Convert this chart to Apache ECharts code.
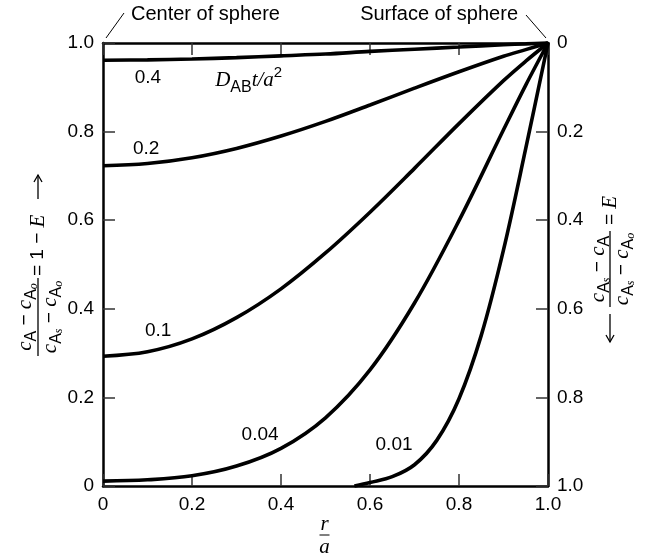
<!DOCTYPE html>
<html>
<head>
<meta charset="utf-8">
<script src="https://cdn.jsdelivr.net/npm/echarts@6/dist/echarts.min.js"></script>
<style>
html,body{margin:0;padding:0;background:#fff;}
#c{width:650px;height:557px;}
</style>
</head>
<body>
<div id="c"></div>
<script>
// ---- data ----
var rMain = [0, 0.1, 0.2, 0.3, 0.4, 0.5, 0.6, 0.7, 0.8, 0.9, 0.95, 1.0];
var v040 = [0.961, 0.962, 0.964, 0.967, 0.971, 0.975, 0.981, 0.986, 0.991, 0.996, 0.998, 1.0];
var v020 = [0.723, 0.728, 0.741, 0.762, 0.790, 0.823, 0.860, 0.898, 0.935, 0.970, 0.985, 1.0];
var v010 = [0.293, 0.303, 0.332, 0.380, 0.445, 0.526, 0.618, 0.717, 0.818, 0.915, 0.959, 1.0];
var v004 = [0.011, 0.014, 0.023, 0.045, 0.085, 0.154, 0.262, 0.413, 0.599, 0.804, 0.905, 1.0];
var r001 = [0.565, 0.6, 0.65, 0.7, 0.75, 0.8, 0.85, 0.9, 0.95, 1.0];
var v001 = [0.0, 0.008, 0.021, 0.048, 0.103, 0.197, 0.340, 0.533, 0.762, 1.0];

var xTickLabels = ['0', '0.2', '0.4', '0.6', '0.8', '1.0'];
var yTickLabels = ['0', '0.2', '0.4', '0.6', '0.8', '1.0'];
var y2TickLabels = ['0', '0.2', '0.4', '0.6', '0.8', '1.0'];

var curveLabels = ['0.4', '0.2', '0.1', '0.04', '0.01'];
var curveLabelR = [0.101, 0.097, 0.124, 0.353, 0.654];
var curveLabelV = [0.921, 0.761, 0.350, 0.115, 0.093];

// ---- chart ----
var SANS = '"Liberation Sans", Arial, sans-serif';
var SERIF = '"Liberation Serif", "Times New Roman", serif';
var chart = echarts.init(document.getElementById('c'), null, {renderer: 'canvas'});

function zip(xs, ys) { return xs.map(function (x, i) { return [x, ys[i]]; }); }
function fmt(labels) { return function (v) { return labels[Math.round(v / 0.2)]; }; }

var axisCommon = {
  type: 'value', min: 0, max: 1, interval: 0.2,
  axisLine: {show: true, onZero: false, lineStyle: {color: '#000', width: 2.5}},
  axisTick: {show: true, inside: true, length: 12, lineStyle: {color: '#333', width: 1.5}},
  splitLine: {show: false},
  axisLabel: {color: '#000', fontSize: 19, fontFamily: SANS, margin: 9}
};
function ax(extra) { return echarts.util.merge(echarts.util.clone(axisCommon), extra, true); }

function lineSeries(name, data) {
  return {
    name: name, type: 'line', data: data, xAxisIndex: 0, yAxisIndex: 0,
    smooth: 0.35, showSymbol: false, symbol: 'none', clip: false,
    lineStyle: {color: '#000', width: 3.6}, silent: true, animation: false
  };
}

var option = {
  backgroundColor: '#fff',
  animation: false,
  grid: {left: 103, right: 102, top: 43, bottom: 71, outerBoundsMode: 'none', containLabel: false},
  xAxis: [
    ax({position: 'bottom', axisLabel: {formatter: fmt(xTickLabels)}}),
    ax({position: 'top', axisLabel: {show: false}})
  ],
  yAxis: [
    ax({position: 'left', axisLabel: {formatter: fmt(yTickLabels)}}),
    ax({position: 'right', inverse: true, axisLabel: {formatter: fmt(y2TickLabels)}})
  ],
  series: [
    lineSeries('0.4', zip(rMain, v040)),
    lineSeries('0.2', zip(rMain, v020)),
    lineSeries('0.1', zip(rMain, v010)),
    lineSeries('0.04', zip(rMain, v004)),
    lineSeries('0.01', zip(r001, v001))
  ]
};
chart.setOption(option);

function px(r, v) { return chart.convertToPixel({xAxisIndex: 0, yAxisIndex: 0}, [r, v]); }

var richY = {
  c: {fontFamily: SERIF, fontStyle: 'italic', fontSize: 21, lineHeight: 30, verticalAlign: 'middle', fill: '#000'},
  A: {fontFamily: SANS, fontSize: 16, lineHeight: 23, verticalAlign: 'bottom', fill: '#000'},
  o: {fontFamily: SERIF, fontStyle: 'italic', fontSize: 12, lineHeight: 12, verticalAlign: 'bottom', fill: '#000'},
  m: {fontFamily: SANS, fontSize: 19, lineHeight: 30, verticalAlign: 'middle', fill: '#000'},
  E: {fontFamily: SERIF, fontStyle: 'italic', fontSize: 21, lineHeight: 30, verticalAlign: 'middle', fill: '#000'}
};

var graphics = [];
// curve labels
curveLabels.forEach(function (t, i) {
  var p = px(curveLabelR[i], curveLabelV[i]);
  graphics.push({type: 'text', x: p[0], y: p[1], silent: true,
    style: {text: t, fontSize: 19, fontFamily: SANS, fill: '#000', align: 'center', verticalAlign: 'middle'}});
});
// D_AB t / a^2
var pd = px(0.252, 0.916);
graphics.push({type: 'text', x: pd[0], y: pd[1], silent: true,
  style: {text: '{D|D}{s|AB}{t|t/a}{p|2}', align: 'left', verticalAlign: 'middle',
    rich: {
      D: {fontFamily: SERIF, fontStyle: 'italic', fontSize: 21, lineHeight: 30, verticalAlign: 'middle', fill: '#000'},
      s: {fontFamily: SANS, fontSize: 16, lineHeight: 22, verticalAlign: 'bottom', fill: '#000'},
      t: {fontFamily: SERIF, fontStyle: 'italic', fontSize: 21, lineHeight: 30, verticalAlign: 'middle', fill: '#000'},
      p: {fontFamily: SANS, fontSize: 15, lineHeight: 22, verticalAlign: 'top', fill: '#000'}
    }}});

// top annotations
graphics.push({type: 'text', x: 131, y: 14, silent: true,
  style: {text: 'Center of sphere', fontSize: 20, fontFamily: SANS, fill: '#000', align: 'left', verticalAlign: 'middle'}});
graphics.push({type: 'line', silent: true, shape: {x1: 106, y1: 38, x2: 124, y2: 13}, style: {stroke: '#000', lineWidth: 1}});
graphics.push({type: 'text', x: 518, y: 14, silent: true,
  style: {text: 'Surface of sphere', fontSize: 20, fontFamily: SANS, fill: '#000', align: 'right', verticalAlign: 'middle'}});
graphics.push({type: 'line', silent: true, shape: {x1: 526, y1: 15, x2: 546, y2: 38}, style: {stroke: '#000', lineWidth: 1}});

// x axis title r/a
var pc = px(0.5, 0);
graphics.push({type: 'group', x: pc[0] - 1, y: 0, silent: true, children: [
  {type: 'text', x: 0, y: 524, style: {text: 'r', fontFamily: SERIF, fontStyle: 'italic', fontSize: 21, fill: '#000', align: 'center', verticalAlign: 'middle'}},
  {type: 'line', shape: {x1: -5, y1: 535, x2: 5, y2: 535}, style: {stroke: '#000', lineWidth: 1}},
  {type: 'text', x: 0, y: 547, style: {text: 'a', fontFamily: SERIF, fontStyle: 'italic', fontSize: 21, fill: '#000', align: 'center', verticalAlign: 'middle'}}
]});

// left y title (rotated)
graphics.push({type: 'group', x: 38, y: 356, rotation: Math.PI / 2, silent: true, children: [
  {type: 'text', x: 39, y: -13, style: {text: '{c|c}{A|A}{m| − }{c|c}{A|A}{o|o}', rich: richY, align: 'center', verticalAlign: 'middle'}},
  {type: 'line', shape: {x1: 0, y1: 0, x2: 78, y2: 0}, style: {stroke: '#000', lineWidth: 1.3}},
  {type: 'text', x: 39, y: 12, style: {text: '{c|c}{A|A}{o|s}{m| − }{c|c}{A|A}{o|o}', rich: richY, align: 'center', verticalAlign: 'middle'}},
  {type: 'text', x: 80, y: 0, style: {text: '{m|= 1 − }{E|E}', rich: richY, align: 'left', verticalAlign: 'middle'}},
  {type: 'line', shape: {x1: 157, y1: 0, x2: 181, y2: 0}, style: {stroke: '#000', lineWidth: 1.3}},
  {type: 'polyline', shape: {points: [[174, -4], [181, 0], [174, 4]]}, style: {stroke: '#000', lineWidth: 1.3, fill: null}}
]});

// right y title (rotated)
graphics.push({type: 'group', x: 610, y: 342, rotation: Math.PI / 2, silent: true, children: [
  {type: 'line', shape: {x1: 0, y1: 0, x2: 28, y2: 0}, style: {stroke: '#000', lineWidth: 1.3}},
  {type: 'polyline', shape: {points: [[7, -4], [0, 0], [7, 4]]}, style: {stroke: '#000', lineWidth: 1.3, fill: null}},
  {type: 'text', x: 73, y: -12, style: {text: '{c|c}{A|A}{o|s}{m| − }{c|c}{A|A}', rich: richY, align: 'center', verticalAlign: 'middle'}},
  {type: 'line', shape: {x1: 35, y1: 0, x2: 111, y2: 0}, style: {stroke: '#000', lineWidth: 1.3}},
  {type: 'text', x: 73, y: 12, style: {text: '{c|c}{A|A}{o|s}{m| − }{c|c}{A|A}{o|o}', rich: richY, align: 'center', verticalAlign: 'middle'}},
  {type: 'text', x: 117, y: 0, style: {text: '{m|= }{E|E}', rich: richY, align: 'left', verticalAlign: 'middle'}}
]});

chart.setOption({graphic: graphics});
</script>
</body>
</html>
